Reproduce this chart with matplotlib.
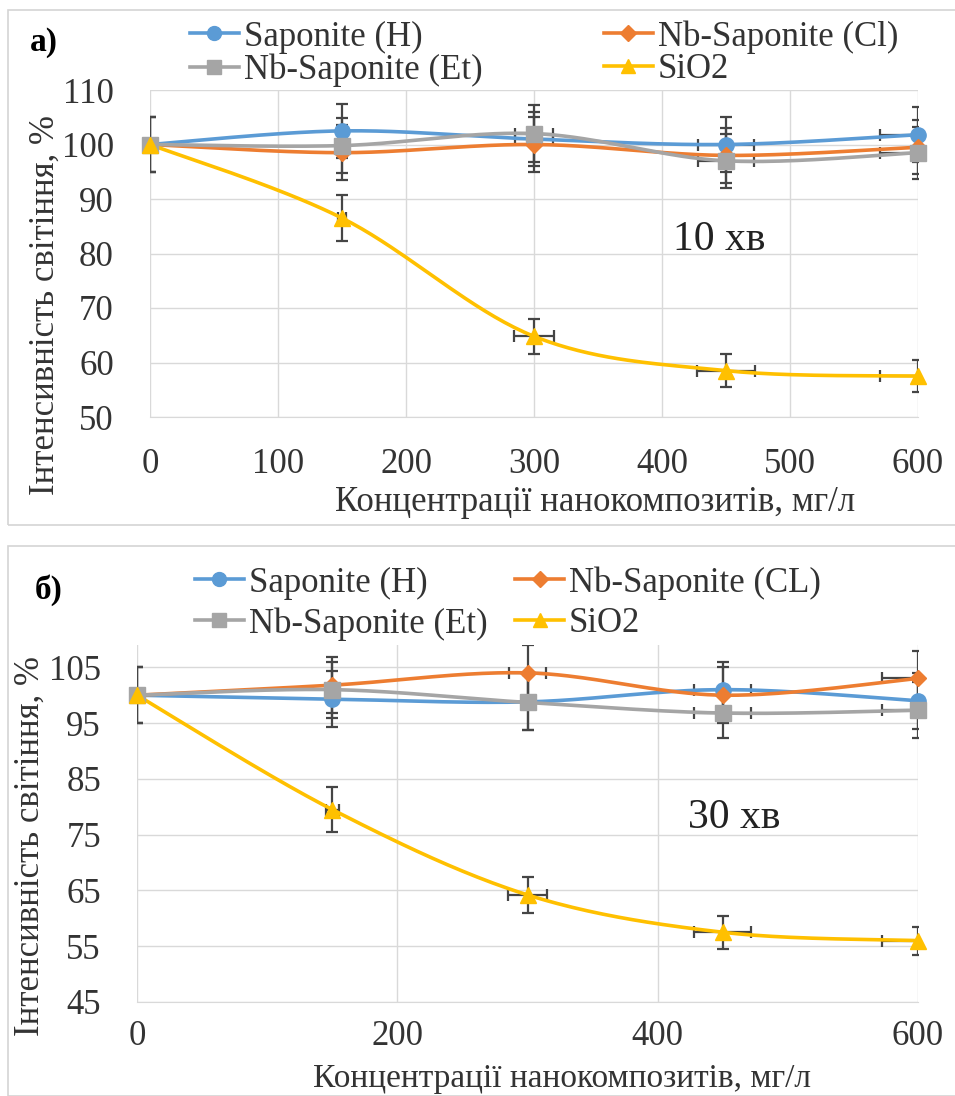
import numpy as np
import matplotlib
matplotlib.use("Agg")
import matplotlib.pyplot as plt
from matplotlib.lines import Line2D
from matplotlib.patches import Rectangle

plt.rcParams['font.family'] = 'serif'
plt.rcParams['font.serif'] = ['Liberation Serif', 'DejaVu Serif']

# concentrations, mg/l
conc = [0, 150, 300, 450, 600]
series_names_a = ['Saponite (H)', 'Nb-Saponite (Cl)', 'Nb-Saponite (Et)', 'SiO2']
series_names_b = ['Saponite (H)', 'Nb-Saponite (CL)', 'Nb-Saponite (Et)', 'SiO2']
colors = ['#5B9BD5', '#ED7D31', '#A5A5A5', '#FFC000']
markers = ['o', 'D', 's', '^']

# panel a) 10 min
sap_h_10 = [100, 102.5, 101, 100, 101.8]
nb_cl_10 = [100, 98.5, 100, 98, 99.5]
nb_et_10 = [100, 99.8, 102, 97, 98.5]
sio2_10 = [100, 86.5, 64.8, 58.5, 57.5]
yerr_10 = [[5, 5, 5, 5, 5], [5, 5, 5, 5, 5], [5, 5, 5.2, 5, 4.8], [0, 4.2, 3.2, 3, 3]]
xerr_10 = [[0, 0, 15, 22, 30], [0, 0, 0, 0, 0], [0, 0, 15, 22, 30], [0, 3, 16, 23, 30]]

# panel б) 30 min
sap_h_30 = [100, 99.3, 98.8, 101, 99]
nb_cl_30 = [100, 101.8, 104, 100, 103]
nb_et_30 = [100, 101, 98.7, 96.8, 97.3]
sio2_30 = [100, 79.5, 64.2, 57.5, 56]
yerr_30 = [[5, 5, 5, 5, 5], [5, 5, 5, 5, 5], [5, 5, 5, 4.5, 5], [0, 4, 3.2, 3, 2.5]]
xerr_30 = [[0, 0, 0, 22, 0], [0, 0, 14, 0, 28], [0, 0, 0, 22, 28], [0, 5, 15, 22, 28]]

FS = 25
TXT = '#333333'


def smooth(x, y, n=40):
    """Excel-like smoothed line through the points (cardinal spline)."""
    x = np.asarray(x, float)
    y = np.asarray(y, float)
    px = np.concatenate([[x[0]], x, [x[-1]]])
    py = np.concatenate([[y[0]], y, [y[-1]]])
    xs, ys = [], []
    t = np.linspace(0, 1, n)
    for i in range(1, len(px) - 2):
        p0 = np.array([px[i], py[i]])
        p3 = np.array([px[i + 1], py[i + 1]])
        p1 = p0 + (np.array([px[i + 1], py[i + 1]]) - np.array([px[i - 1], py[i - 1]])) / 6
        p2 = p3 - (np.array([px[i + 2], py[i + 2]]) - np.array([px[i], py[i]])) / 6
        b = ((1 - t) ** 3)[:, None] * p0 + (3 * (1 - t) ** 2 * t)[:, None] * p1 \
            + (3 * (1 - t) * t ** 2)[:, None] * p2 + (t ** 3)[:, None] * p3
        xs.extend(b[:, 0])
        ys.extend(b[:, 1])
    return xs, ys


def draw_panel(ax, data, yerrs, xerrs, ylim, yticks, xticks):
    for i, ys in enumerate(data):
        ax.errorbar(conc, ys, yerr=yerrs[i], xerr=xerrs[i], fmt='none',
                    ecolor='#454545', elinewidth=1.6, capsize=4, capthick=1.6, zorder=2)
    for i, ys in enumerate(data):
        sx, sy = smooth(conc, ys)
        ax.plot(sx, sy, color=colors[i], lw=2.6, zorder=3, solid_capstyle='round')
        ax.plot(conc, ys, linestyle='none', marker=markers[i], color=colors[i],
                markersize=11 if markers[i] != 'D' else 8, zorder=4, clip_on=False)
    ax.set_xlim(0, 600)
    ax.set_ylim(*ylim)
    ax.set_yticks(yticks)
    ax.set_xticks(xticks)
    ax.grid(True, color='#d9d9d9', lw=1)
    ax.set_axisbelow(True)
    for s in ax.spines.values():
        s.set_visible(False)
    ax.spines['bottom'].set_visible(True)
    ax.spines['bottom'].set_color('#d9d9d9')
    ax.tick_params(length=0, labelsize=FS, colors=TXT)
    ax.tick_params(axis='y', pad=26)


def legend_handles():
    h = [Line2D([0], [0], color=c, lw=2.6, marker=m, markersize=10 if m != 'D' else 8)
         for c, m in zip(colors, markers)]
    # row-wise order for a 2-column legend
    return [h[0], h[2], h[1], h[3]]


def legend_labels(names):
    return [names[0], names[2], names[1], names[3]]


fig = plt.figure(figsize=(9.55, 10.96), dpi=100)

# light panel frames
fig.patches.append(Rectangle((8 / 955, 1 - 525 / 1096), 950 / 955, 515 / 1096,
                             transform=fig.transFigure, fill=False, ec='#d4d4d4', lw=1.2))
fig.patches.append(Rectangle((8 / 955, 0), 950 / 955, 1 - 545 / 1096 - 0.001,
                             transform=fig.transFigure, fill=False, ec='#d4d4d4', lw=1.2))

# panel a
ax1 = fig.add_axes([150 / 955, 1 - 417 / 1096, 768 / 955, 327 / 1096])
draw_panel(ax1, [sap_h_10, nb_cl_10, nb_et_10, sio2_10], yerr_10, xerr_10,
           (50, 110), range(50, 111, 10), range(0, 601, 100))
ax1.tick_params(axis='x', pad=22)
ax1.set_xlabel('Концентрації нанокомпозитів, мг/л', fontsize=FS, color=TXT)
ax1.xaxis.set_label_coords(0.579, -0.21)
ax1.set_ylabel('Інтенсивність світіння, %', fontsize=FS, color=TXT)
ax1.yaxis.set_label_coords(-0.115, 0.342)
ax1.text(445, 82.5, '10 хв', fontsize=30, ha='center', va='center', color='#222222')
fig.legend(handles=legend_handles(), labels=legend_labels(series_names_a), ncol=2,
           frameon=False, loc='upper left', bbox_to_anchor=(190 / 955, 1 - 20 / 1096),
           fontsize=FS, handlelength=1.4, handletextpad=0.15, columnspacing=3.5,
           labelspacing=0.0, borderaxespad=0, borderpad=0, labelcolor=TXT)
fig.text(30 / 955, 1 - 42 / 1096, 'а)', fontsize=24, fontweight='bold', va='center')

# panel б
ax2 = fig.add_axes([137 / 955, 1 - 1002 / 1096, 781 / 955, 357 / 1096])
draw_panel(ax2, [sap_h_30, nb_cl_30, nb_et_30, sio2_30], yerr_30, xerr_30,
           (45, 109), range(45, 106, 10), range(0, 601, 200))
ax2.tick_params(axis='x', pad=13)
ax2.set_xlabel('Концентрації нанокомпозитів, мг/л', fontsize=24, color=TXT)
ax2.xaxis.label.set_va('bottom')
ax2.xaxis.set_label_coords(0.544, -0.258)
ax2.set_ylabel('Інтенсивність світіння, %', fontsize=FS, color=TXT)
ax2.yaxis.set_label_coords(-0.115, 0.437)
ax2.text(459, 78, '30 хв', fontsize=30, ha='center', va='center', color='#222222')
fig.legend(handles=legend_handles(), labels=legend_labels(series_names_b), ncol=2,
           frameon=False, loc='upper left', bbox_to_anchor=(195 / 955, 1 - 566 / 1096),
           fontsize=FS, handlelength=1.4, handletextpad=0.15, columnspacing=0.8,
           labelspacing=0.22, borderaxespad=0, borderpad=0, labelcolor=TXT)
fig.text(35 / 955, 1 - 590 / 1096, 'б)', fontsize=24, fontweight='bold', va='center')

fig.savefig('out.png', dpi=100)
